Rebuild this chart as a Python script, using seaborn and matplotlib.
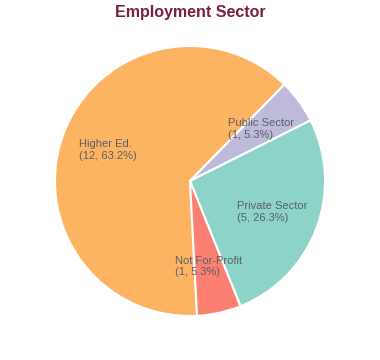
import matplotlib
matplotlib.use("Agg")
import matplotlib.pyplot as plt
import seaborn as sns

sectors = ["Higher Ed.", "Public Sector", "Private Sector", "Not For-Profit"]
counts = [12, 1, 5, 1]
colors = ["#FDB462", "#BEBADA", "#8DD3C7", "#FB8072"]
title = "Employment Sector"

sns.set_theme(style="white")
plt.rcParams["font.family"] = ["Liberation Sans", "DejaVu Sans"]

fig = plt.figure(figsize=(3.8, 3.6), dpi=100)
ax = fig.add_axes([55 / 380, 44 / 360, 270 / 380, 270 / 360])

total = sum(counts)
labels = [f"{s}\n({c}, {c / total * 100:.1f}%)" for s, c in zip(sectors, counts)]

wedges, texts = ax.pie(
    counts,
    labels=labels,
    colors=colors,
    startangle=-87,
    counterclock=False,
    labeldistance=0.65,
    radius=1,
    wedgeprops=dict(edgecolor="white", linewidth=1.5),
    textprops=dict(fontsize=8, color="#5a5f6b"),
)
for t in texts:
    t.set_ha("center")
    t.set_va("center")
    t.set_multialignment("left")

ax.set_xlim(-1, 1)
ax.set_ylim(-1, 1)
ax.set_aspect("equal")
ax.axis("off")

fig.text(0.5, 1 - 13 / 360, title, ha="center", va="center",
         fontsize=11.5, fontweight="bold", color="#7A1F3D")

fig.savefig("out.png", dpi=100)
